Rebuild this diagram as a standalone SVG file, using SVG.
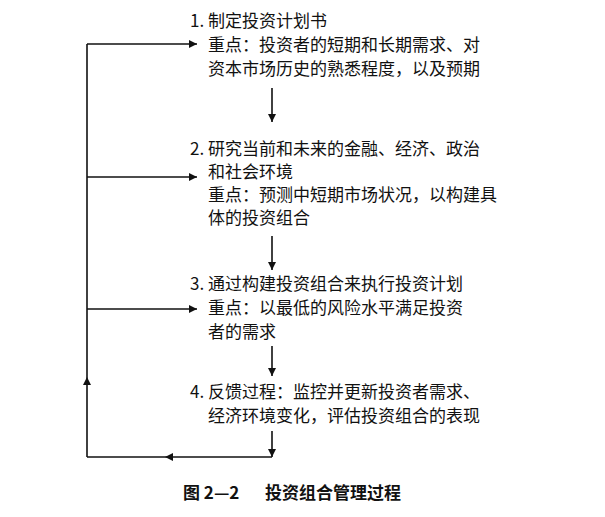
<svg xmlns="http://www.w3.org/2000/svg" width="605" height="517" viewBox="0 0 605 517">
<defs>
<marker id="ah" viewBox="0 0 10 10" refX="10" refY="5" markerWidth="10" markerHeight="8" markerUnits="userSpaceOnUse" orient="auto"><path d="M0,0 L10,5 L0,10 Z" fill="#111"/></marker>
<style>
text{font-family:"Noto Sans CJK SC","Liberation Serif",serif;font-size:17px;fill:#111}
.c{font-weight:bold}
line{stroke:#111;stroke-width:1.6;fill:none}
</style>
</defs>
<rect width="605" height="517" fill="#fff"/>
<g id="n1"><text x="190" y="27">1. 制定投资计划书</text><text x="208" y="51">重点：投资者的短期和长期需求、对</text><text x="208" y="75">资本市场历史的熟悉程度，以及预期</text></g>
<g id="n2"><text x="190" y="155">2. 研究当前和未来的金融、经济、政治</text><text x="208" y="178">和社会环境</text><text x="208" y="201">重点：预测中短期市场状况，以构建具</text><text x="208" y="224">体的投资组合</text></g>
<g id="n3"><text x="190" y="290">3. 通过构建投资组合来执行投资计划</text><text x="208" y="314">重点：以最低的风险水平满足投资</text><text x="208" y="338">者的需求</text></g>
<g id="n4"><text x="190" y="398">4. 反馈过程：监控并更新投资者需求、</text><text x="208" y="422">经济环境变化，评估投资组合的表现</text></g>
<g id="caption"><text class="c" x="183" y="499">图 2—2</text><text class="c" x="265" y="499">投资组合管理过程</text></g>
<g id="connectors">
<line x1="272" y1="88" x2="272" y2="122" marker-end="url(#ah)"/>
<line x1="272" y1="236" x2="272" y2="270" marker-end="url(#ah)"/>
<line x1="272" y1="346" x2="272" y2="376" marker-end="url(#ah)"/>
<line x1="272" y1="431" x2="272" y2="457" marker-end="url(#ah)"/>
<line x1="272" y1="457" x2="165" y2="457" marker-end="url(#ah)"/>
<line x1="165" y1="457" x2="87" y2="457"/>
<line x1="87" y1="457" x2="87" y2="377" marker-end="url(#ah)"/>
<line x1="87" y1="377" x2="87" y2="44"/>
<line x1="87" y1="44" x2="197" y2="44" marker-end="url(#ah)"/>
<line x1="87" y1="177" x2="197" y2="177" marker-end="url(#ah)"/>
<line x1="87" y1="309" x2="197" y2="309" marker-end="url(#ah)"/>
</g>
</svg>
